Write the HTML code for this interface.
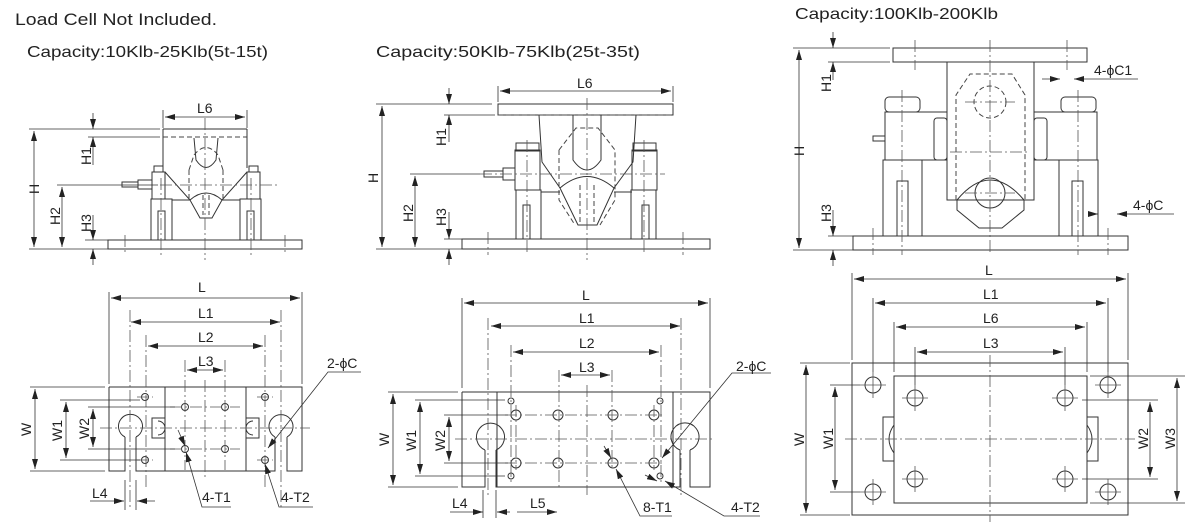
<!DOCTYPE html>
<html><head><meta charset="utf-8"><style>
html,body{margin:0;padding:0;background:#fff;}
svg{display:block;}
text{font-family:"Liberation Sans",sans-serif;fill:#222;}
.s{fill:none;stroke:#333;stroke-width:1;}
.d{fill:none;stroke:#444;stroke-width:1;stroke-dasharray:5 3;}
.c{fill:none;stroke:#555;stroke-width:0.8;stroke-dasharray:12 3 2 3;}
.t{fill:none;stroke:#555;stroke-width:0.8;}
.dim{fill:none;stroke:#333;stroke-width:0.8;}
.lb{font-size:14px;}
</style></head><body>
<svg width="1200" height="530" viewBox="0 0 1200 530" xmlns="http://www.w3.org/2000/svg">
<defs>
<marker id="a" viewBox="0 0 10 6" refX="10" refY="3" markerWidth="10" markerHeight="6" orient="auto-start-reverse" markerUnits="userSpaceOnUse"><path d="M0,0 L10,3 L0,6z" fill="#222"/></marker>
</defs>
<text x="15" y="25" font-size="17" textLength="202" lengthAdjust="spacingAndGlyphs">Load Cell Not Included.</text>
<text x="27" y="57" font-size="16" textLength="241" lengthAdjust="spacingAndGlyphs">Capacity:10Klb-25Klb(5t-15t)</text>
<text x="376" y="57" font-size="16" textLength="264" lengthAdjust="spacingAndGlyphs">Capacity:50Klb-75Klb(25t-35t)</text>
<text x="795" y="19" font-size="16" textLength="203" lengthAdjust="spacingAndGlyphs">Capacity:100Klb-200Klb</text>

<!-- ===== TOP LEFT ===== -->
<g>
<rect class="s" x="108" y="240" width="194" height="9"/>
<rect class="s" x="151" y="199" width="21" height="41"/>
<rect class="s" x="240" y="199" width="21" height="41"/>
<rect class="s" x="158" y="211" width="7" height="29"/>
<rect class="s" x="247" y="211" width="7" height="29"/>
<rect class="s" x="152" y="172" width="13" height="27"/>
<rect class="s" x="247" y="172" width="13" height="27"/>
<rect class="s" x="154" y="166" width="9" height="6"/>
<rect class="s" x="249" y="166" width="9" height="6"/>
<rect class="s" x="138" y="180" width="14" height="9"/>
<rect class="s" x="122" y="182" width="16" height="5"/>
<path class="s" d="M163,129 H247 M163,129 V168 M247,129 V168"/>
<path class="d" d="M163,137 H247"/>
<path class="s" d="M165,172 L190,200 L200,218 H212 L222,200 L247,172 M172,200 H190 M222,200 H240"/>
<path class="s" d="M190,200 Q206,186 222,200"/>
<path class="s" d="M194,138 L196,160 Q206,175 216,160 L218,138"/>
<path class="d" d="M194,155 Q206,140 218,155 M189,170 V200 M223,170 V200 M189,170 L194,155 M223,170 L218,155"/>
<path class="d" d="M203,195 V215 M209,195 V215"/>
<path class="c" d="M205,118 V260 M160,185 H280 M161,178 V255 M251,178 V255 M125,235 V255 M285,235 V255"/>
<path class="dim" d="M29,129 H160 M29,249 H108 M57,185 H158 M85,240 H108 M163,110 V128 M247,110 V128"/>
<path class="dim" d="M34,131 V247" marker-start="url(#a)" marker-end="url(#a)"/>
<path class="dim" d="M62,187 V247" marker-start="url(#a)" marker-end="url(#a)"/>
<path class="dim" d="M165,117 H245" marker-start="url(#a)" marker-end="url(#a)"/>
<path class="dim" d="M93,113 V129" marker-end="url(#a)"/><path class="dim" d="M93,165 V137" marker-end="url(#a)"/>
<path class="dim" d="M88,137 H160"/>
<path class="dim" d="M93,215 V240" marker-end="url(#a)"/><path class="dim" d="M93,265 V249" marker-end="url(#a)"/>
<text class="lb" x="197" y="113">L6</text>
<text class="lb" transform="translate(39,194) rotate(-90)">H</text>
<text class="lb" transform="translate(91,165) rotate(-90)">H1</text>
<text class="lb" transform="translate(60,225) rotate(-90)">H2</text>
<text class="lb" transform="translate(91,232) rotate(-90)">H3</text>
</g>

<!-- ===== TOP MIDDLE ===== -->
<g>
<rect class="s" x="462" y="239" width="248" height="10"/>
<rect class="s" x="498" y="104" width="175" height="11"/>
<path class="d" d="M498,115 H673"/>
<rect class="s" x="516" y="190" width="25" height="49"/>
<rect class="s" x="631" y="190" width="25" height="49"/>
<rect class="s" x="523" y="205" width="7" height="34"/>
<rect class="s" x="642" y="205" width="7" height="34"/>
<rect class="s" x="515" y="150" width="25" height="40"/>
<rect class="s" x="632" y="150" width="25" height="40"/>
<rect class="s" x="516" y="143" width="23" height="8"/>
<rect class="s" x="633" y="143" width="23" height="8"/>
<rect class="s" x="503" y="168" width="12" height="12"/>
<rect class="s" x="484" y="171" width="19" height="6"/>
<path class="s" d="M539,115 L542,162 L560,188 L578,225 H597 L614,188 L633,162 L636,115"/>
<path class="s" d="M560,188 Q587,165 614,188 M541,192 H560 M614,192 H632"/>
<path class="s" d="M573,115 V160 Q587,180 601,160 V115"/>
<path class="d" d="M559,150 L576,128 H598 L615,150 V200 L600,225 M559,150 V200 L575,225"/>
<path class="d" d="M580,185 V225 M594,185 V225"/>
<path class="c" d="M587,98 V260 M480,174 H665 M527,140 V255 M644,140 V255 M488,232 V255 M683,232 V255"/>
<path class="dim" d="M376,104 H492 M376,249 H462 M410,174 H480 M444,115 H495 M444,239 H462 M498,86 V102 M673,86 V102"/>
<path class="dim" d="M382,106 V247" marker-start="url(#a)" marker-end="url(#a)"/>
<path class="dim" d="M415,176 V247" marker-start="url(#a)" marker-end="url(#a)"/>
<path class="dim" d="M500,91 H671" marker-start="url(#a)" marker-end="url(#a)"/>
<path class="dim" d="M449,88 V104" marker-end="url(#a)"/><path class="dim" d="M449,142 V115" marker-end="url(#a)"/>
<path class="dim" d="M449,212 V239" marker-end="url(#a)"/><path class="dim" d="M449,265 V249" marker-end="url(#a)"/>
<text class="lb" x="577" y="88">L6</text>
<text class="lb" transform="translate(378,183) rotate(-90)">H</text>
<text class="lb" transform="translate(446,146) rotate(-90)">H1</text>
<text class="lb" transform="translate(413,222) rotate(-90)">H2</text>
<text class="lb" transform="translate(446,226) rotate(-90)">H3</text>
</g>

<!-- ===== TOP RIGHT ===== -->
<g>
<rect class="s" x="853" y="236" width="275" height="14"/>
<rect class="s" x="893" y="48" width="194" height="14"/>
<rect class="s" x="947" y="62" width="87" height="138"/>
<rect class="s" x="885" y="112" width="62" height="48"/>
<rect class="s" x="1034" y="112" width="63" height="48"/>
<rect class="s" x="885" y="97" width="35" height="15" rx="4"/>
<rect class="s" x="1061" y="97" width="35" height="15" rx="4"/>
<rect class="s" x="883" y="160" width="39" height="76"/>
<rect class="s" x="1059" y="160" width="39" height="76"/>
<rect class="s" x="897" y="181" width="11" height="55"/>
<rect class="s" x="1072" y="181" width="11" height="55"/>
<rect class="s" x="934" y="118" width="13" height="42" rx="3"/>
<rect class="s" x="1034" y="118" width="13" height="42" rx="3"/>
<rect class="s" x="873" y="136" width="12" height="5"/>
<path class="s" d="M957,200 Q990,160 1024,200 L1024,210 L1002,228 H979 L957,210 Z"/>
<circle class="s" cx="990" cy="193" r="15"/>
<path class="d" d="M956,200 V95 L970,74 H1012 L1025,95 V200"/>
<circle class="d" cx="990" cy="102" r="16"/>
<path class="c" d="M990,40 V255 M950,152 H1030 M965,102 H1015 M965,193 H1015 M902,90 V255 M1078,90 V255 M915,40 V70 M1067,40 V70 M873,228 V255 M1108,228 V255"/>
<path class="dim" d="M793,48 H890 M793,250 H853 M828,62 H890 M828,236 H853"/>
<path class="dim" d="M799,50 V248" marker-start="url(#a)" marker-end="url(#a)"/>
<path class="dim" d="M833,32 V48" marker-end="url(#a)"/><path class="dim" d="M833,80 V62" marker-end="url(#a)"/>
<path class="dim" d="M833,210 V236" marker-end="url(#a)"/><path class="dim" d="M833,266 V250" marker-end="url(#a)"/>
<path class="dim" d="M1042,79 H1060" marker-end="url(#a)"/><path class="dim" d="M1138,79 H1074" marker-end="url(#a)"/>
<path class="dim" d="M1088,214 H1098" marker-end="url(#a)"/><path class="dim" d="M1174,214 H1117" marker-end="url(#a)"/>
<text class="lb" x="1094" y="75">4-&#981;C1</text>
<text class="lb" x="1133" y="210">4-&#981;C</text>
<text class="lb" transform="translate(804,156) rotate(-90)">H</text>
<text class="lb" transform="translate(831,92) rotate(-90)">H1</text>
<text class="lb" transform="translate(831,222) rotate(-90)">H3</text>
</g>

<!-- ===== BOTTOM LEFT ===== -->
<g>
<path class="s" d="M109,387 H302 V471 H287 V437 M275,437 V471 H136 V437 M125,437 V471 H109 V387 M165,387 V471 M246,387 V471"/>
<path class="s" d="M125,437 A12,12 0 1 1 136,437 M275,437 A12,12 0 1 1 287,437"/>
<rect class="s" x="152" y="418" width="13" height="20"/>
<rect class="s" x="246" y="418" width="13" height="20"/>
<path class="s" d="M158,421 A7,7 0 0 1 158,435 M253,421 A7,7 0 0 0 253,435"/>
<g class="s"><circle cx="145" cy="397" r="3.5"/><circle cx="265" cy="397" r="3.5"/><circle cx="145" cy="460" r="3.5"/><circle cx="265" cy="460" r="3.5"/>
<circle cx="185" cy="407" r="3.5"/><circle cx="225" cy="407" r="3.5"/><circle cx="185" cy="449" r="3.5"/><circle cx="225" cy="449" r="3.5"/></g>
<path class="c" d="M100,428 H310 M205,380 V480 M130,310 V510 M281,310 V510 M146,335 V490 M265,335 V490 M185,360 V470 M225,360 V470 M170,407 H240 M170,449 H240 M137,397 H153 M257,397 H273 M137,460 H153 M257,460 H273"/>
<path class="dim" d="M109,292 V384 M302,292 V384 M30,387 H105 M60,400 H140 M88,407 H175 M88,449 H175 M60,460 H140 M30,471 H105"/>
<path class="dim" d="M111,298 H300" marker-start="url(#a)" marker-end="url(#a)"/>
<path class="dim" d="M131,322 H280" marker-start="url(#a)" marker-end="url(#a)"/>
<path class="dim" d="M148,346 H263" marker-start="url(#a)" marker-end="url(#a)"/>
<path class="dim" d="M187,370 H223" marker-start="url(#a)" marker-end="url(#a)"/>
<path class="dim" d="M35,389 V469" marker-start="url(#a)" marker-end="url(#a)"/>
<path class="dim" d="M66,402 V458" marker-start="url(#a)" marker-end="url(#a)"/>
<path class="dim" d="M93,409 V447" marker-start="url(#a)" marker-end="url(#a)"/>
<path class="dim" d="M90,501 H124" marker-end="url(#a)"/><path class="dim" d="M155,501 H137" marker-end="url(#a)"/>
<path class="dim" d="M125,480 V510 M136,480 V510"/>
<path class="dim" d="M361,372 H328 L268,448" marker-end="url(#a)"/>
<path class="dim" d="M231,507 H202 L186,452" marker-end="url(#a)"/>
<path class="dim" d="M178,430 L185,446" marker-end="url(#a)"/>
<path class="dim" d="M313,507 H279 L265,464" marker-end="url(#a)"/>
<text class="lb" x="198" y="292">L</text>
<text class="lb" x="198" y="318">L1</text>
<text class="lb" x="198" y="342">L2</text>
<text class="lb" x="198" y="366">L3</text>
<text class="lb" x="92" y="498">L4</text>
<text class="lb" x="202" y="502">4-T1</text>
<text class="lb" x="281" y="502">4-T2</text>
<text class="lb" x="327" y="368">2-&#981;C</text>
<text class="lb" transform="translate(31,436) rotate(-90)">W</text>
<text class="lb" transform="translate(62,441) rotate(-90)">W1</text>
<text class="lb" transform="translate(89,439) rotate(-90)">W2</text>
</g>

<!-- ===== BOTTOM MIDDLE ===== -->
<g>
<path class="s" d="M462,392 H710 V487 H690 V450 M680,450 V487 H496 V450 M485,450 V487 H462 V392 M497,392 V487 M673,392 V487"/>
<path class="s" d="M485,450 A14,14 0 1 1 496,450 M680,450 A14,14 0 1 1 690,450"/>
<g class="s"><circle cx="516" cy="415" r="5"/><circle cx="558" cy="415" r="5"/><circle cx="613" cy="415" r="5"/><circle cx="654" cy="415" r="5"/>
<circle cx="516" cy="463" r="5"/><circle cx="558" cy="463" r="5"/><circle cx="613" cy="463" r="5"/><circle cx="654" cy="463" r="5"/>
<circle cx="511" cy="401" r="3"/><circle cx="660" cy="401" r="3"/><circle cx="511" cy="476" r="3"/><circle cx="660" cy="476" r="3"/></g>
<path class="c" d="M455,439 H715 M587,385 V495 M488,318 V495 M681,318 V495 M511,345 V485 M661,345 V485 M559,370 V490 M612,370 V470 M505,415 H665 M505,463 H665 M516,405 V470 M654,405 V470"/>
<path class="dim" d="M462,298 V388 M710,298 V388 M388,392 H458 M415,400 H505 M444,415 H508 M444,463 H508 M415,476 H505 M388,487 H458"/>
<path class="dim" d="M464,303 H708" marker-start="url(#a)" marker-end="url(#a)"/>
<path class="dim" d="M491,326 H680" marker-start="url(#a)" marker-end="url(#a)"/>
<path class="dim" d="M513,352 H659" marker-start="url(#a)" marker-end="url(#a)"/>
<path class="dim" d="M561,375 H610" marker-start="url(#a)" marker-end="url(#a)"/>
<path class="dim" d="M393,394 V485" marker-start="url(#a)" marker-end="url(#a)"/>
<path class="dim" d="M420,402 V474" marker-start="url(#a)" marker-end="url(#a)"/>
<path class="dim" d="M449,417 V461" marker-start="url(#a)" marker-end="url(#a)"/>
<path class="dim" d="M450,512 H483" marker-end="url(#a)"/><path class="dim" d="M510,512 H497" marker-end="url(#a)"/>
<path class="dim" d="M483,490 V518 M496,490 V518"/>
<path class="dim" d="M517,512 H557" marker-end="url(#a)"/>
<path class="dim" d="M771,373 H732 L662,458" marker-end="url(#a)"/>
<path class="dim" d="M672,516 H640 L616,469" marker-end="url(#a)"/>
<path class="dim" d="M604,446 L611,458" marker-end="url(#a)"/>
<path class="dim" d="M760,516 H724 L665,481" marker-end="url(#a)"/>
<path class="dim" d="M645,475 L657,481" marker-end="url(#a)"/>
<text class="lb" x="582" y="300">L</text>
<text class="lb" x="579" y="323">L1</text>
<text class="lb" x="579" y="348">L2</text>
<text class="lb" x="579" y="372">L3</text>
<text class="lb" x="452" y="508">L4</text>
<text class="lb" x="530" y="508">L5</text>
<text class="lb" x="643" y="512">8-T1</text>
<text class="lb" x="731" y="512">4-T2</text>
<text class="lb" x="736" y="371">2-&#981;C</text>
<text class="lb" transform="translate(389,446) rotate(-90)">W</text>
<text class="lb" transform="translate(416,451) rotate(-90)">W1</text>
<text class="lb" transform="translate(445,451) rotate(-90)">W2</text>
</g>

<!-- ===== BOTTOM RIGHT ===== -->
<g>
<rect class="s" x="852" y="363" width="276" height="152"/>
<rect class="s" x="894" y="376" width="193" height="127"/>
<rect class="s" x="883" y="417" width="11" height="44"/>
<rect class="s" x="1087" y="417" width="11" height="44"/>
<path class="s" d="M894,425 Q884,439 894,453 M1087,425 Q1097,439 1087,453"/>
<g class="s"><circle cx="873" cy="385" r="8"/><circle cx="1108" cy="385" r="8"/><circle cx="873" cy="492" r="8"/><circle cx="1108" cy="492" r="8"/>
<circle cx="915" cy="398" r="8"/><circle cx="1065" cy="398" r="8"/><circle cx="915" cy="479" r="8"/><circle cx="1065" cy="479" r="8"/></g>
<path class="t" d="M860,385 H886 M873,372 V398 M1095,385 H1121 M1108,372 V398 M860,492 H886 M873,479 V505 M1095,492 H1121 M1108,479 V505 M902,398 H928 M915,385 V411 M1052,398 H1078 M1065,385 V411 M902,479 H928 M915,466 V492 M1052,479 H1078 M1065,466 V492"/>
<path class="c" d="M845,439 H1135 M990,355 V522"/>
<path class="dim" d="M852,273 V360 M1128,273 V360 M873,298 V372 M1108,298 V372 M894,322 V372 M1087,322 V372 M915,347 V385 M1065,347 V385"/>
<path class="dim" d="M800,363 H850 M830,385 H860 M830,492 H860 M800,515 H850 M1090,376 H1185 M1082,400 H1158 M1082,479 H1158 M1090,503 H1185"/>
<path class="dim" d="M854,279 H1126" marker-start="url(#a)" marker-end="url(#a)"/>
<path class="dim" d="M875,303 H1106" marker-start="url(#a)" marker-end="url(#a)"/>
<path class="dim" d="M896,327 H1085" marker-start="url(#a)" marker-end="url(#a)"/>
<path class="dim" d="M917,352 H1063" marker-start="url(#a)" marker-end="url(#a)"/>
<path class="dim" d="M806,365 V513" marker-start="url(#a)" marker-end="url(#a)"/>
<path class="dim" d="M835,387 V490" marker-start="url(#a)" marker-end="url(#a)"/>
<path class="dim" d="M1150,402 V477" marker-start="url(#a)" marker-end="url(#a)"/>
<path class="dim" d="M1177,378 V501" marker-start="url(#a)" marker-end="url(#a)"/>
<text class="lb" x="985" y="275">L</text>
<text class="lb" x="983" y="299">L1</text>
<text class="lb" x="983" y="323">L6</text>
<text class="lb" x="983" y="348">L3</text>
<text class="lb" transform="translate(804,446) rotate(-90)">W</text>
<text class="lb" transform="translate(833,449) rotate(-90)">W1</text>
<text class="lb" transform="translate(1148,449) rotate(-90)">W2</text>
<text class="lb" transform="translate(1175,449) rotate(-90)">W3</text>
</g>
</svg>
</body></html>
